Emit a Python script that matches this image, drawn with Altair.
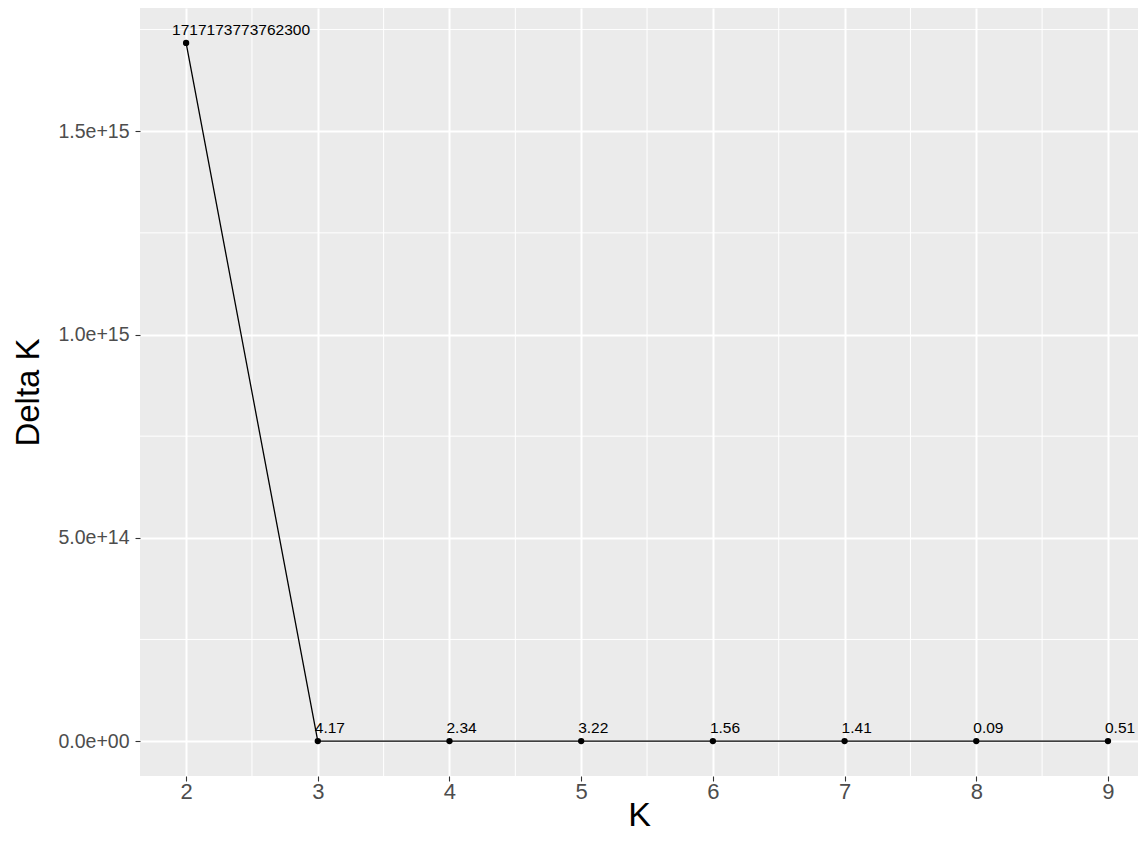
import altair as alt
import pandas as pd

# Data
k_values = [2, 3, 4, 5, 6, 7, 8, 9]
delta_k = [1717173773762300, 4.17, 2.34, 3.22, 1.56, 1.41, 0.09, 0.51]

x_major = [2, 3, 4, 5, 6, 7, 8, 9]
x_minor = [2.5, 3.5, 4.5, 5.5, 6.5, 7.5, 8.5]
y_major = [0, 5e14, 1e15, 1.5e15]
y_minor = [2.5e14, 7.5e14, 1.25e15, 1.75e15]

df = pd.DataFrame({"K": k_values, "DeltaK": delta_k})
df_xminor = pd.DataFrame({"K": x_minor})
df_yminor = pd.DataFrame({"DeltaK": y_minor})

ymax = max(delta_k)
ymin = min(delta_k)
yexp = (ymax - ymin) * 0.05
y_domain = [ymin - yexp, ymax + yexp]
x_domain = [1.65, 9.228]

FONT = "Liberation Sans"

x_scale = alt.Scale(domain=x_domain, nice=False, zero=False)
y_scale = alt.Scale(domain=y_domain, nice=False, zero=False)

x_axis = alt.Axis(
    values=x_major,
    title="K",
    titleFontSize=34,
    titleFont=FONT,
    titleFontWeight="normal",
    titleColor="black",
    titleBaseline="alphabetic",
    titleY=49,
    labelFontSize=22,
    labelFont=FONT,
    labelColor="#4D4D4D",
    labelPadding=0,
    tickSize=5,
    tickColor="#333333",
    tickWidth=1.1,
    domain=False,
    grid=True,
    gridColor="white",
    gridWidth=2,
    labelFlush=False,
)
y_axis = alt.Axis(
    values=y_major,
    title="Delta K",
    titleFontSize=33,
    titleFont=FONT,
    titleFontWeight="normal",
    titleColor="black",
    titleBaseline="alphabetic",
    titleX=-102,
    labelFontSize=19.5,
    labelFont=FONT,
    labelColor="#4D4D4D",
    labelPadding=6,
    tickSize=5,
    tickColor="#333333",
    tickWidth=1.1,
    domain=False,
    grid=True,
    gridColor="white",
    gridWidth=2,
    labelFlush=False,
    labelExpr="datum.value == 0 ? '0.0e+00' : format(datum.value, '.1e')",
)

X = alt.X("K:Q", scale=x_scale, axis=x_axis)
Y = alt.Y("DeltaK:Q", scale=y_scale, axis=y_axis)

minor_x = alt.Chart(df_xminor).mark_rule(color="white", strokeWidth=1).encode(x=X)
minor_y = alt.Chart(df_yminor).mark_rule(color="white", strokeWidth=1).encode(y=Y)

base = alt.Chart(df).encode(x=X, y=Y)

line = base.mark_line(color="black", strokeWidth=1.3)
points = base.mark_point(filled=True, color="black", size=40, opacity=1)

labeled = base.transform_calculate(
    lab="datum.DeltaK > 1000 ? format(datum.DeltaK, 'd') : format(datum.DeltaK, '.2f')"
)
text_big = labeled.transform_filter("datum.DeltaK > 1000").mark_text(
    align="left", baseline="alphabetic", dx=-14, dy=-8, fontSize=15.5, font=FONT, color="black"
).encode(text="lab:N")
text_small = labeled.transform_filter("datum.DeltaK <= 1000").mark_text(
    align="left", baseline="alphabetic", dx=-3, dy=-8, fontSize=15.5, font=FONT, color="black"
).encode(text="lab:N")

chart = (
    alt.layer(minor_x, minor_y, line, points, text_big, text_small)
    .properties(
        width=998,
        height=768,
        autosize=alt.AutoSizeParams(type="none"),
        padding={"left": 132, "top": 0, "right": 0, "bottom": 57},
        background="white",
    )
    .configure_view(fill="#EBEBEB", stroke=None)
)

chart.save("out.html", embed_options={"renderer": "svg", "actions": False})
